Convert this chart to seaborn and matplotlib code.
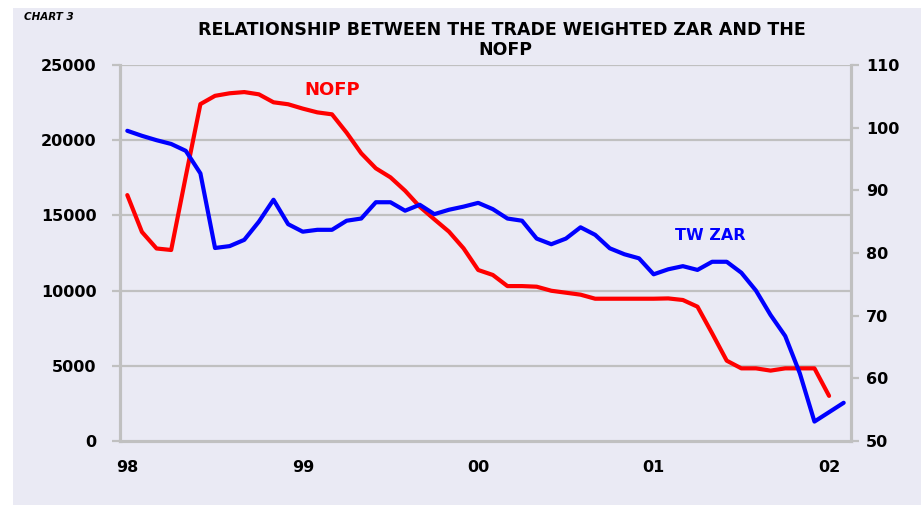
import matplotlib
matplotlib.use("Agg")
import matplotlib.pyplot as plt
import seaborn as sns
import numpy as np
import pandas as pd
from matplotlib.patches import Rectangle
from matplotlib.ticker import FixedLocator

# ---- data (monthly, Jan 1998 onwards) ----
nofp = [16350, 13900, 12800, 12700, 17600, 22400, 22950, 23120, 23200, 23050,
        22520, 22390, 22100, 21850, 21720, 20500, 19130, 18130, 17530, 16640,
        15580, 14740, 13920, 12810, 11370, 11040, 10300, 10300, 10260, 9990,
        9860, 9730, 9460, 9460, 9460, 9460, 9460, 9480, 9375, 8930,
        7160, 5340, 4830, 4830, 4680, 4830, 4830, 4830, 3000]
tw_zar = [99.5, 98.7, 98.0, 97.4, 96.3, 92.7, 80.8, 81.1, 82.1, 85.0,
          88.5, 84.6, 83.4, 83.7, 83.7, 85.15, 85.5, 88.1, 88.1, 86.75,
          87.7, 86.2, 86.9, 87.4, 88.0, 87.0, 85.5, 85.15, 82.3, 81.4,
          82.3, 84.1, 82.9, 80.75, 79.8, 79.15, 76.6, 77.4, 77.9, 77.3,
          78.6, 78.6, 76.85, 74.0, 70.1, 66.75, 60.8, 53.1, 54.6, 56.1]
year_labels = ["98", "99", "00", "01", "02"]
left_ticks = [0, 5000, 10000, 15000, 20000, 25000]
right_ticks = [50, 60, 70, 80, 90, 100, 110]

df_nofp = pd.DataFrame({"month": np.arange(len(nofp)), "NOFP": nofp})
df_zar = pd.DataFrame({"month": np.arange(len(tw_zar)), "TW ZAR": tw_zar})
n_cat = len(tw_zar)

sns.set_style("white")
plt.rcParams["font.family"] = ["DejaVu Sans"]
plt.rcParams["text.color"] = "black"
plt.rcParams["xtick.color"] = "black"
plt.rcParams["ytick.color"] = "black"

W, H = 921, 505
fig = plt.figure(figsize=(W / 100, H / 100), dpi=100)
fig.patch.set_facecolor("white")
fig.patches.append(Rectangle((13 / W, 0), 1, 1 - 8 / H, transform=fig.transFigure,
                             facecolor="#EAEAF4", edgecolor="none", zorder=-10))

ax = fig.add_axes([120 / W, 1 - 441 / H, 731 / W, 376 / H])
ax.set_facecolor("none")
ax2 = ax.twinx()

grid_c = "#C0C0C0"
for v in left_ticks[1:]:
    ax.axhline(v, color=grid_c, lw=1.6, zorder=0)

sns.lineplot(data=df_nofp, x="month", y="NOFP", ax=ax, color="#FF0000", lw=3.0)
sns.lineplot(data=df_zar, x="month", y="TW ZAR", ax=ax2, color="#0000FF", lw=3.0)

ax.set_xlim(-0.5, n_cat - 0.5)
ax.set_ylim(0, 25000)
ax2.set_ylim(50, 110)

for a in (ax, ax2):
    a.set_xlabel("")
    a.set_ylabel("")
    for s in a.spines.values():
        s.set_color(grid_c)
        s.set_linewidth(2.2)
    a.spines["top"].set_visible(False)

ax.set_yticks(left_ticks)
ax.set_yticklabels([str(v) for v in left_ticks], fontsize=11.5, fontweight="bold")
ax.tick_params(axis="y", direction="out", length=6, width=1.6, color=grid_c,
               labelcolor="black", pad=11)
ax2.set_yticks(right_ticks)
ax2.set_yticklabels([str(v) for v in right_ticks], fontsize=11.5, fontweight="bold")
ax2.tick_params(axis="y", direction="out", length=6, width=1.6, color=grid_c,
                labelcolor="black", pad=5)

ax.set_xticks([0, 12, 24, 36, 48])
ax.set_xticklabels(year_labels, fontsize=11.5, fontweight="bold")
ax.tick_params(axis="x", which="major", length=0, pad=14, labelcolor="black")
ax.xaxis.set_minor_locator(FixedLocator(np.arange(-0.5, n_cat, 10)))
ax.tick_params(axis="x", which="minor", direction="out", length=5, width=1.6, color=grid_c)

fig.text(24 / W, 1 - 17 / H, "CHART 3", fontsize=7.5, fontweight="bold", fontstyle="italic",
         ha="left", va="center")
fig.text(502 / W, 1 - 30 / H, "RELATIONSHIP BETWEEN THE TRADE WEIGHTED ZAR AND THE",
         fontsize=12.5, fontweight="bold", ha="center", va="center")
fig.text(505 / W, 1 - 50 / H, "NOFP", fontsize=12.5, fontweight="bold", ha="center", va="center")

fig.text(332 / W, 1 - 90 / H, "NOFP", color="#FF0000", fontsize=13, fontweight="bold",
         ha="center", va="center")
fig.text(710 / W, 1 - 236 / H, "TW ZAR", color="#0000FF", fontsize=11.5, fontweight="bold",
         ha="center", va="center")

fig.savefig("out.png", dpi=100)
